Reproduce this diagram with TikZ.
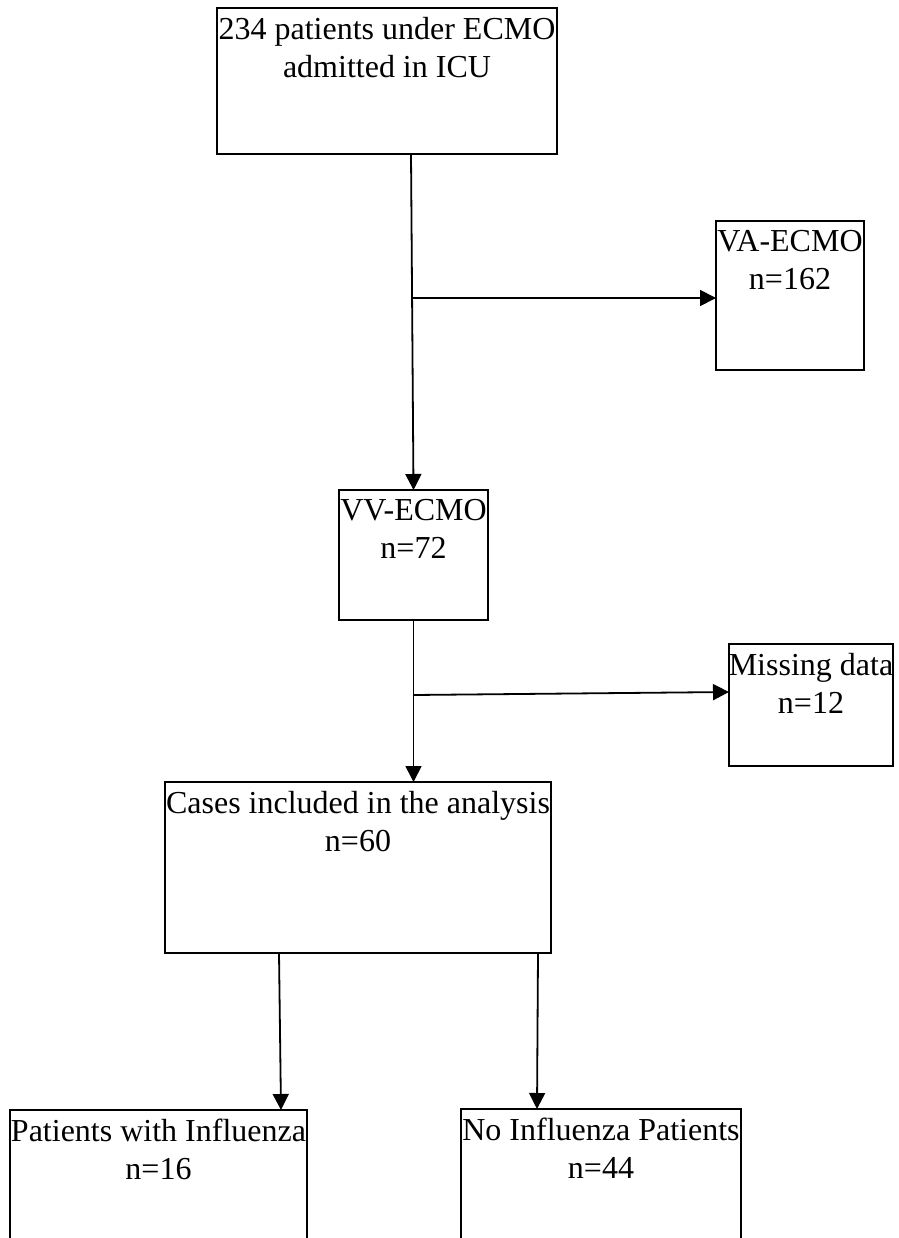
\documentclass[tikz,border=0pt]{standalone}
\usepackage{fontspec}
\setmainfont{Liberation Serif}
\usetikzlibrary{arrows.meta}
\begin{document}
\begin{tikzpicture}[x=1pt,y=-1pt,
  box/.style={draw, line width=1.8pt, inner sep=0pt, outer sep=0pt},
  txt/.style={font=\fontsize{32pt}{38pt}\selectfont, align=center, inner sep=0pt, anchor=north},
  arr/.style={line width=1.8pt, -{Triangle[length=16pt,width=16pt]}}]
\useasboundingbox (0,0) rectangle (898,1238);
\clip (0,0) rectangle (898,1238);
% boxes
\node[box, minimum width=340pt, minimum height=146pt] (b1) at (387,81) {};
\node[box, minimum width=148pt, minimum height=149pt] (va) at (790,295.5) {};
\node[box, minimum width=149pt, minimum height=130pt] (vv) at (413.5,555) {};
\node[box, minimum width=164pt, minimum height=122pt] (miss) at (811,705) {};
\node[box, minimum width=386pt, minimum height=171pt] (cases) at (358,867.5) {};
\node[box, minimum width=297pt, minimum height=150pt] (inf) at (158.5,1185) {};
\node[box, minimum width=280pt, minimum height=151pt] (noinf) at (601,1184.5) {};
% texts
\node[txt] (t1) at ([yshift=-9pt]b1.north) {234 patients under ECMO\\admitted in ICU};
\node[txt] (tva) at ([yshift=-9pt]va.north) {VA-ECMO\\n=162};
\node[txt] (tvv) at ([yshift=-9pt]vv.north) {VV-ECMO\\n=72};
\node[txt] (tmiss) at ([yshift=-9pt]miss.north) {Missing data\\n=12};
\node[txt] (tcases) at ([yshift=-9pt]cases.north) {Cases included in the analysis\\n=60};
\node[txt] (tinf) at ([yshift=-9pt]inf.north) {Patients with Influenza\\n=16};
\node[txt] (tnoinf) at ([yshift=-9pt]noinf.north) {No Influenza Patients\\n=44};
% connectors
\draw[arr] ([xshift=24pt]b1.south) -- (vv.north);
\coordinate (j1) at (412,298);
\draw[arr] (j1) -- (j1 -| va.west);
\draw[arr] (vv.south) -- (vv.south |- cases.north);
\coordinate (j2) at (413.5,695);
\draw[arr] (j2) -- ([yshift=13pt]miss.west);
\draw[arr] ([xshift=-79pt]cases.south) -- ([xshift=122.5pt]inf.north);
\draw[arr] ([xshift=180pt]cases.south) -- ([xshift=-64pt]noinf.north);
\end{tikzpicture}
\end{document}
